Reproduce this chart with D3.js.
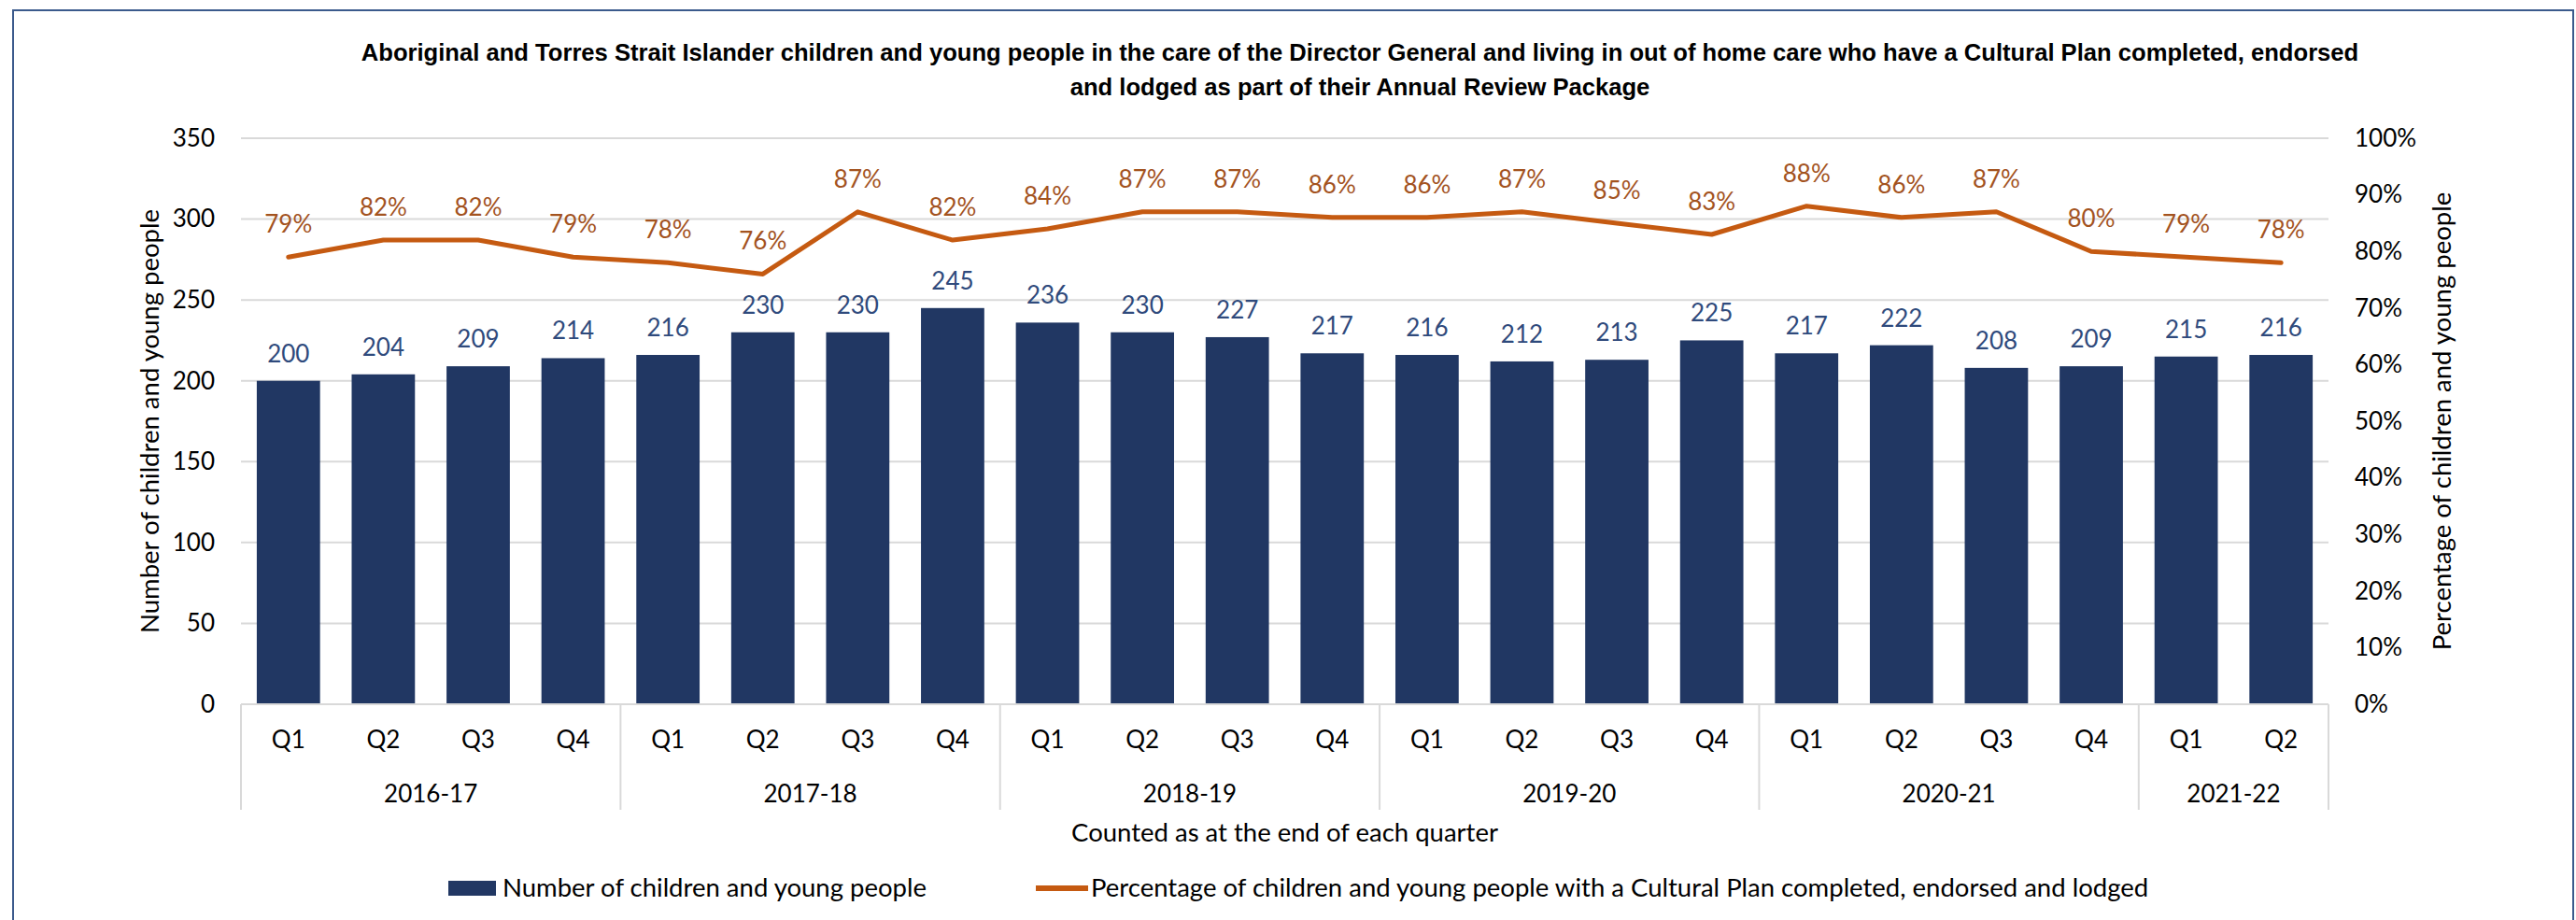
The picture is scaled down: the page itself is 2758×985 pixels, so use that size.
<!DOCTYPE html>
<html>
<head>
<meta charset="utf-8">
<script src="https://cdnjs.cloudflare.com/ajax/libs/d3/7.8.5/d3.min.js"></script>
<style>
  body { margin: 0; background: #ffffff; }
  text { font-family: Lato, "Liberation Sans", sans-serif; }
</style>
</head>
<body>
<script>
// data
let years = ["2016-17", "2017-18", "2018-19", "2019-20", "2020-21", "2021-22"];
let quartersPerYear = [4, 4, 4, 4, 4, 2];
let quarters = ["Q1","Q2","Q3","Q4", "Q1","Q2","Q3","Q4", "Q1","Q2","Q3","Q4",
                "Q1","Q2","Q3","Q4", "Q1","Q2","Q3","Q4", "Q1","Q2"];
let counts = [200, 204, 209, 214, 216, 230, 230, 245, 236, 230, 227, 217,
              216, 212, 213, 225, 217, 222, 208, 209, 215, 216];
let percents = [0.79, 0.82, 0.82, 0.79, 0.78, 0.76, 0.87, 0.82, 0.84, 0.87, 0.87, 0.86,
                0.86, 0.87, 0.85, 0.83, 0.88, 0.86, 0.87, 0.80, 0.79, 0.78];
let leftTicks = [0, 50, 100, 150, 200, 250, 300, 350];
let rightTicks = [0, 0.1, 0.2, 0.3, 0.4, 0.5, 0.6, 0.7, 0.8, 0.9, 1];

let titleLines = [
  "Aboriginal and Torres Strait Islander children and young people in the care of the Director General and living in out of home care who have a Cultural Plan completed, endorsed",
  "and lodged as part of their Annual Review Package"
];
let barName = "Number of children and young people";
let lineName = "Percentage of children and young people with a Cultural Plan completed, endorsed and lodged";

let w = 2758, h = 985;
let margin = {top: 148, right: 265, bottom: 231, left: 258};
let width = w - margin.left - margin.right, height = h - margin.top - margin.bottom;

let barColor = "#213763", lineColor = "#c55a11";
let barLabelColor = "#2f4a7c", lineLabelColor = "#a3531f";
let gridColor = "#d9d9d9";
let numSize = "26px", textSize = "27.5px";

// one key per bar
let keys = quarters.map(function (q, i) { return i + "|" + q; });

let svg = d3.select("body").append("svg")
  .attr("width", w)
  .attr("height", h);

// outer frame
svg.append("rect")
  .attr("x", 14).attr("y", 11)
  .attr("width", 2741).attr("height", 1000)
  .attr("fill", "none")
  .attr("stroke", "#3b5a8c")
  .attr("stroke-width", 2);

// title
svg.selectAll(".title").data(titleLines).enter().append("text")
  .attr("class", "title")
  .attr("x", 1456)
  .attr("y", function (d, i) { return 65 + i * 37; })
  .attr("text-anchor", "middle")
  .style("font-family", "'Liberation Sans Narrow', 'Liberation Sans', sans-serif")
  .style("font-weight", "bold")
  .style("font-size", "25.6px")
  .attr("fill", "#000")
  .text(function (d) { return d; });

let g = svg.append("g")
  .attr("transform", "translate(" + margin.left + "," + margin.top + ")");

let xScale = d3.scaleBand().domain(keys).range([0, width])
  .paddingInner(0.333).paddingOuter(0.1665);
let yLeft = d3.scaleLinear().domain([0, 350]).range([height, 0]);
let yRight = d3.scaleLinear().domain([0, 1]).range([height, 0]);

// gridlines
g.selectAll(".grid").data(leftTicks).enter().append("line")
  .attr("class", "grid")
  .attr("x1", 0).attr("x2", width)
  .attr("y1", function (d) { return yLeft(d); })
  .attr("y2", function (d) { return yLeft(d); })
  .attr("stroke", gridColor)
  .attr("stroke-width", 2);

// left axis
let leftAxis = g.append("g")
  .call(d3.axisLeft(yLeft).tickValues(leftTicks).tickSize(0).tickPadding(28));
leftAxis.select(".domain").remove();
leftAxis.selectAll("text")
  .style("font-family", "Lato, sans-serif")
  .style("font-size", numSize)
  .attr("fill", "#000");

// right axis
let rightAxis = g.append("g")
  .attr("transform", "translate(" + width + ",0)")
  .call(d3.axisRight(yRight).tickValues(rightTicks).tickSize(0).tickPadding(28)
    .tickFormat(d3.format(".0%")));
rightAxis.select(".domain").remove();
rightAxis.selectAll("text")
  .style("font-family", "Lato, sans-serif")
  .style("font-size", numSize)
  .attr("fill", "#000");

// bars
g.selectAll(".bar").data(keys).enter().append("rect")
  .attr("class", "bar")
  .attr("x", function (d) { return xScale(d); })
  .attr("y", function (d, i) { return yLeft(counts[i]); })
  .attr("width", xScale.bandwidth())
  .attr("height", function (d, i) { return height - yLeft(counts[i]); })
  .attr("fill", barColor);

g.selectAll(".barlabel").data(keys).enter().append("text")
  .attr("class", "barlabel")
  .attr("x", function (d) { return xScale(d) + xScale.bandwidth() / 2; })
  .attr("y", function (d, i) { return yLeft(counts[i]) - 20; })
  .attr("text-anchor", "middle")
  .style("font-size", numSize)
  .attr("fill", barLabelColor)
  .text(function (d, i) { return counts[i]; });

// category axis: baseline, quarter labels, year labels and separators
let bottom = g.append("g").attr("transform", "translate(0," + height + ")");

bottom.append("line")
  .attr("x1", 0).attr("x2", width)
  .attr("stroke", gridColor).attr("stroke-width", 2);

bottom.selectAll(".qlabel").data(keys).enter().append("text")
  .attr("class", "qlabel")
  .attr("x", function (d) { return xScale(d) + xScale.bandwidth() / 2; })
  .attr("y", 47)
  .attr("text-anchor", "middle")
  .style("font-size", numSize)
  .attr("fill", "#000")
  .text(function (d, i) { return quarters[i]; });

let yearStart = [];
let acc = 0;
quartersPerYear.forEach(function (n) { yearStart.push(acc); acc += n; });
let step = xScale.step();
let edge = function (idx) { return idx === 0 ? 0 : (idx >= keys.length ? width : xScale(keys[idx]) - step * 0.333 / 2); };

let seps = yearStart.concat([keys.length]);
bottom.selectAll(".sep").data(seps).enter().append("line")
  .attr("class", "sep")
  .attr("x1", function (d) { return edge(d); })
  .attr("x2", function (d) { return edge(d); })
  .attr("y1", 0).attr("y2", 113)
  .attr("stroke", gridColor).attr("stroke-width", 2);

bottom.selectAll(".ylabel").data(years).enter().append("text")
  .attr("class", "ylabel")
  .attr("x", function (d, i) {
    return (edge(yearStart[i]) + edge(yearStart[i] + quartersPerYear[i])) / 2;
  })
  .attr("y", 105)
  .attr("text-anchor", "middle")
  .style("font-size", numSize)
  .attr("fill", "#000")
  .text(function (d) { return d; });

// line series
let line = d3.line()
  .x(function (d, i) { return xScale(keys[i]) + xScale.bandwidth() / 2; })
  .y(function (d) { return yRight(d); });

g.append("path")
  .datum(percents)
  .attr("d", line)
  .attr("fill", "none")
  .attr("stroke", lineColor)
  .attr("stroke-width", 5)
  .attr("stroke-linejoin", "round")
  .attr("stroke-linecap", "round");

g.selectAll(".linelabel").data(percents).enter().append("text")
  .attr("class", "linelabel")
  .attr("x", function (d, i) { return xScale(keys[i]) + xScale.bandwidth() / 2; })
  .attr("y", function (d) { return yRight(d) - 26; })
  .attr("text-anchor", "middle")
  .style("font-size", numSize)
  .attr("fill", lineLabelColor)
  .text(function (d) { return d3.format(".0%")(d); });

// axis titles
svg.append("text")
  .attr("transform", "translate(170," + (margin.top + height / 2) + ") rotate(-90)")
  .attr("text-anchor", "middle")
  .style("font-size", textSize)
  .attr("fill", "#000")
  .text(barName);

svg.append("text")
  .attr("transform", "translate(2624," + (margin.top + height / 2) + ") rotate(-90)")
  .attr("text-anchor", "middle")
  .style("font-size", textSize)
  .attr("fill", "#000")
  .text("Percentage of children and young people");

svg.append("text")
  .attr("x", margin.left + width / 2)
  .attr("y", 901)
  .attr("text-anchor", "middle")
  .style("font-size", textSize)
  .attr("fill", "#000")
  .text("Counted as at the end of each quarter");

// legend
let legend = svg.append("g").attr("transform", "translate(0,951)");
legend.append("rect")
  .attr("x", 480).attr("y", -8)
  .attr("width", 51).attr("height", 16)
  .attr("fill", barColor);
legend.append("text")
  .attr("x", 538).attr("y", 9)
  .style("font-size", textSize)
  .attr("fill", "#000")
  .text(barName);
legend.append("line")
  .attr("x1", 1109).attr("x2", 1165)
  .attr("stroke", lineColor).attr("stroke-width", 6);
legend.append("text")
  .attr("x", 1168).attr("y", 9)
  .style("font-size", textSize)
  .attr("fill", "#000")
  .text(lineName);
</script>
</body>
</html>
